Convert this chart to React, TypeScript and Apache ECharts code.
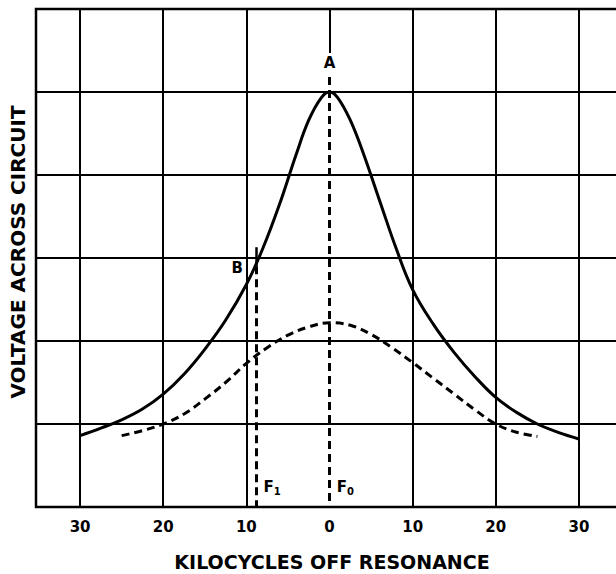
import React, { useEffect, useRef } from "react";
import * as echarts from "echarts";

// kilocycles off resonance (negative = below resonance)
const solidX = [-30, -27.5, -25, -22.5, -20, -17.5, -15, -12.5, -10, -8, -6, -4, -2.5, -1, 0, 1, 2.5, 4, 6, 8, 10, 12.5, 15, 17.5, 20, 22.5, 25, 27.5, 30];
const solidY = [0.86, 0.95, 1.05, 1.18, 1.36, 1.6, 1.9, 2.25, 2.68, 3.12, 3.65, 4.25, 4.66, 4.93, 5.0, 4.93, 4.66, 4.28, 3.7, 3.12, 2.62, 2.2, 1.86, 1.57, 1.32, 1.14, 1.0, 0.9, 0.82];

const dashX = [-25, -22.5, -20, -17.5, -15, -12.5, -10, -7.5, -5, -2.5, 0, 2.5, 5, 7.5, 10, 12.5, 15, 17.5, 20, 22.5, 25];
const dashY = [0.86, 0.92, 1.0, 1.12, 1.3, 1.5, 1.73, 1.92, 2.07, 2.17, 2.22, 2.19, 2.08, 1.92, 1.74, 1.55, 1.36, 1.17, 1.0, 0.9, 0.85];

const xTickValues = [-30, -20, -10, 0, 10, 20, 30];
const fullGridX = [-30, -20, -10, 10, 20, 30];

const xMin = -35.3;
const xMax = 35.3;
const yMin = 0;
const yMax = 6;

// F0 line at resonance, F1 line at B
const f0X = 0;
const f1X = -8.8;

// annotations: [x, y, label]
const annotations: [number, number, string][] = [
  [0, 5.35, "A"],
  [-11.1, 2.88, "B"],
  [-6.9, 0.24, "F1"],
  [1.9, 0.24, "F0"],
];

const FONT = '"DejaVu Sans", sans-serif';

export default function App() {
  const ref = useRef<HTMLDivElement>(null);

  useEffect(() => {
    if (!ref.current) return;
    const chart = echarts.init(ref.current, undefined, { renderer: "svg" });

    const black = "#000";
    const gridLineStyle = { color: black, width: 2, type: "solid" as const };
    const dashStyle = { color: black, width: 3, type: [8, 5] as number[] };

    const markLineData: any[] = [
      ...fullGridX.map((x) => ({ xAxis: x, lineStyle: gridLineStyle })),
      [
        { coord: [f0X, 5.47], lineStyle: gridLineStyle },
        { coord: [f0X, yMax] },
      ],
      [
        { coord: [f0X, 5.18], lineStyle: dashStyle },
        { coord: [f0X, yMin] },
      ],
      [
        { coord: [f1X, 3.13], lineStyle: { color: black, width: 2.5, type: "solid" } },
        { coord: [f1X, 2.9] },
      ],
      [
        { coord: [f1X, 2.9], lineStyle: dashStyle },
        { coord: [f1X, yMin] },
      ],
    ];

    const labelText = {
      color: black,
      fontFamily: FONT,
      fontWeight: "bold",
      textBorderWidth: 0,
      textBorderColor: "transparent",
      opacity: 1,
    };

    const option: any = {
      animation: false,
      backgroundColor: "#fff",
      grid: {
        left: 36,
        top: 9,
        width: 587,
        height: 498,
        show: true,
        borderColor: black,
        borderWidth: 2.5,
        backgroundColor: "transparent",
        outerBoundsMode: "none",
        containLabel: false,
      },
      xAxis: {
        type: "value",
        min: xMin,
        max: xMax,
        axisLine: { show: false },
        axisTick: { show: false },
        splitLine: { show: false },
        axisLabel: {
          customValues: xTickValues,
          formatter: (v: number) => String(Math.abs(v)),
          color: black,
          fontSize: 15,
          fontWeight: "bold",
          fontFamily: FONT,
          margin: 12,
        },
      },
      yAxis: {
        type: "value",
        min: yMin,
        max: yMax,
        interval: 1,
        axisLine: { show: false },
        axisTick: { show: false },
        axisLabel: { show: false },
        splitLine: { show: true, lineStyle: { color: black, width: 2 } },
      },
      graphic: [
        {
          type: "text",
          x: 332,
          y: 562,
          style: {
            text: "KILOCYCLES OFF RESONANCE",
            fill: black,
            font: `bold 19px ${FONT}`,
            textAlign: "center",
            textVerticalAlign: "middle",
          },
        },
        {
          type: "text",
          x: 18,
          y: 252,
          rotation: Math.PI / 2,
          style: {
            text: "VOLTAGE ACROSS CIRCUIT",
            fill: black,
            font: `bold 20px ${FONT}`,
            textAlign: "center",
            textVerticalAlign: "middle",
          },
        },
      ],
      series: [
        {
          type: "line",
          name: "resonance",
          data: solidX.map((x, i) => [x, solidY[i]]),
          smooth: 0.4,
          symbol: "none",
          lineStyle: { color: black, width: 3 },
          z: 5,
          markLine: {
            silent: true,
            symbol: ["none", "none"],
            label: { show: false },
            lineStyle: gridLineStyle,
            data: markLineData,
            z: 3,
          },
        },
        {
          type: "line",
          name: "broad",
          data: dashX.map((x, i) => [x, dashY[i]]),
          smooth: 0.4,
          symbol: "none",
          lineStyle: dashStyle,
          z: 5,
        },
        {
          type: "scatter",
          data: annotations.map((a) => [a[0], a[1], a[2]]),
          symbolSize: 1,
          itemStyle: { color: "transparent", opacity: 1 },
          z: 6,
          label: {
            show: true,
            position: "inside",
            ...labelText,
            fontSize: 15,
            formatter: (p: any) => {
              const t: string = p.data[2];
              if (t.length === 2) return `{f|${t[0]}}{s|${t[1]}}`;
              return t;
            },
            rich: {
              f: { ...labelText, fontSize: 15 },
              s: { ...labelText, fontSize: 10, padding: [8, 0, 0, 0] },
            },
          },
        },
      ],
    };

    chart.setOption(option);
    return () => chart.dispose();
  }, []);

  return (
    <div
      ref={ref}
      style={{ position: "fixed", left: 0, top: 0, width: 616, height: 574, background: "#fff" }}
    />
  );
}
